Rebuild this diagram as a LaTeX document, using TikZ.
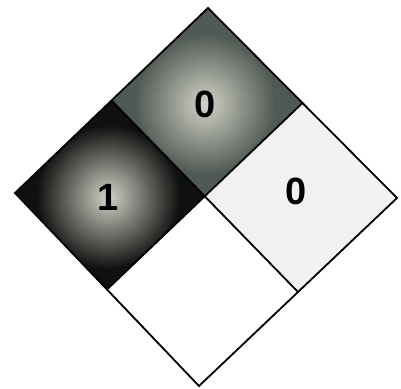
\documentclass[tikz,border=0pt]{standalone}
\usepackage{fontspec}
\setmainfont{Liberation Sans}
\usepackage{xcolor}
\usetikzlibrary{calc}
\definecolor{healthblack}{RGB}{14, 17, 15}
\definecolor{fireglow}{RGB}{210, 210, 198}
\definecolor{firegray}{RGB}{80, 90, 84}
\definecolor{reactgray}{RGB}{241, 241, 240}

\begin{document}
\begin{tikzpicture}[x=1pt, y=-1pt,
    edge/.style={draw=black, line width=1.8pt, line join=miter},
    digit/.style={font=\fontsize{38}{38}\selectfont\bfseries, text=black, inner sep=0pt}]
        % Page frame
        \fill[white] (0,0) rectangle (401,388);
        \useasboundingbox (0,0) rectangle (401,388);

        % Corners of the diamond
        \coordinate (T) at (208,8);
        \coordinate (R) at (397,198);
        \coordinate (B) at (199,386);
        \coordinate (L) at (15,193);
        \coordinate (C) at (205,196);
        \coordinate (TL) at ($(T)!0.5!(L)$);
        \coordinate (TR) at ($(T)!0.5!(R)$);
        \coordinate (BL) at ($(B)!0.5!(L)$);
        \coordinate (BR) at ($(B)!0.5!(R)$);

        % Flammability (top)
        \begin{scope}
            \clip (T) -- (TR) -- (C) -- (TL) -- cycle;
            \fill[firegray] (T) -- (TR) -- (C) -- (TL) -- cycle;
            \shade[inner color=fireglow, outer color=firegray] (205,104) circle (70);
        \end{scope}
        % Health (left)
        \begin{scope}
            \clip (L) -- (TL) -- (C) -- (BL) -- cycle;
            \fill[healthblack] (L) -- (TL) -- (C) -- (BL) -- cycle;
            \shade[inner color=fireglow, outer color=healthblack] (108,197) circle (72);
        \end{scope}
        % Reactivity (right) and special (bottom)
        \fill[reactgray] (TR) -- (R) -- (BR) -- (C) -- cycle;
        \fill[white] (C) -- (BR) -- (B) -- (BL) -- cycle;

        % Outline and inner lines
        \draw[edge] (T) -- (R) -- (B) -- (L) -- cycle;
        \draw[edge] (TL) -- (BR);
        \draw[edge] (TR) -- (BL);

        % Ratings
        \node[digit] (fire) at (205,104) {0};
        \node[digit] (health) at (108,197) {1};
        \node[digit] (react) at (296,191) {0};
    \end{tikzpicture}
\end{document}
